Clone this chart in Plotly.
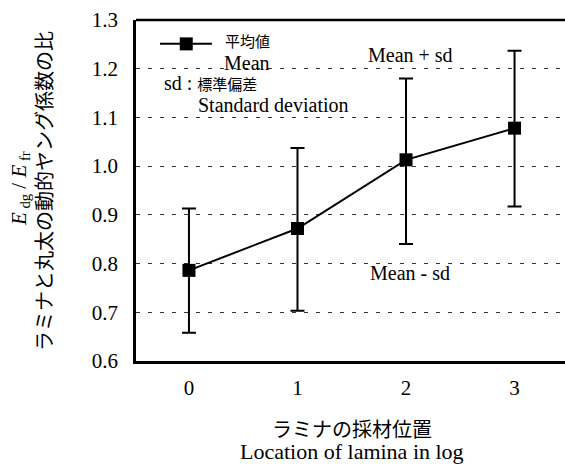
import plotly.graph_objects as go

positions = [0, 1, 2, 3]
tick_labels = ["0", "1", "2", "3"]
mean_vals = [0.786, 0.872, 1.013, 1.078]
sd_plus = [0.127, 0.165, 0.167, 0.159]
sd_minus = [0.128, 0.169, 0.173, 0.161]

serif = "Liberation Serif, Times New Roman, serif"
jp = "Liberation Serif, Noto Sans CJK JP, serif"

fig = go.Figure()
fig.add_trace(go.Scatter(
    x=positions, y=mean_vals, mode="lines+markers",
    line=dict(color="black", width=2),
    marker=dict(symbol="square", size=13, color="black"),
    error_y=dict(type="data", symmetric=False, array=sd_plus, arrayminus=sd_minus,
                 color="black", thickness=2, width=7),
    showlegend=False,
))

# legend sample (line + square)
fig.add_shape(type="line", xref="paper", yref="paper", x0=0.056, x1=0.177, y0=0.93, y1=0.93,
              line=dict(color="black", width=2))
fig.add_trace(go.Scatter(x=[-0.025], y=[1.251], mode="markers",
                         marker=dict(symbol="square", size=13, color="black"),
                         showlegend=False, hoverinfo="skip"))

# top frame line
fig.add_shape(type="line", xref="paper", yref="paper", x0=0, x1=1, y0=1, y1=1,
              line=dict(color="black", width=2.5))

J = '<span style="font-size:15px">%s</span>'
ann = [
    (0.202, 0.935, J % "平均値", "left", 20),
    (0.258, 0.875, "Mean", "center", 20),
    (0.060, 0.815, "sd : " + J % "標準偏差", "left", 20),
    (0.320, 0.752, "Standard deviation", "center", 20),
    (0.641, 0.897, "Mean + sd", "center", 20),
    (0.639, 0.258, "Mean - sd", "center", 20),
]
for x, y, t, a, s in ann:
    fig.add_annotation(xref="paper", yref="paper", x=x, y=y, text=t, showarrow=False,
                       xanchor=a, yanchor="middle", font=dict(family=jp, size=s, color="black"))

# axis titles
fig.add_annotation(xref="paper", yref="paper", x=0.503, y=-0.202, text="ラミナの採材位置",
                   showarrow=False, xanchor="center", yanchor="middle",
                   font=dict(family=jp, size=20, color="black"))
fig.add_annotation(xref="paper", yref="paper", x=0.503, y=-0.264, text="Location of lamina in log",
                   showarrow=False, xanchor="center", yanchor="middle",
                   font=dict(family=serif, size=22, color="black"))
fig.add_annotation(xref="paper", yref="paper", x=-0.212, y=0.4985,
                   text="ラミナと丸太の動的ヤング係数の比", textangle=-90,
                   showarrow=False, xanchor="center", yanchor="middle",
                   font=dict(family=jp, size=20, color="black"))
fig.add_annotation(xref="paper", yref="paper", x=-0.272, y=0.505,
                   text="<i>E</i><sub> dg</sub> / <i>E</i><sub> fr</sub>", textangle=-90,
                   showarrow=False, xanchor="center", yanchor="middle",
                   font=dict(family=serif, size=21, color="black"))

fig.update_layout(
    width=565, height=468,
    margin=dict(l=136, r=0, t=20, b=107),
    paper_bgcolor="white", plot_bgcolor="white",
    font=dict(family=serif, size=21, color="black"),
    xaxis=dict(range=[-0.488, 3.465], tickvals=positions, ticktext=tick_labels,
               showgrid=False, zeroline=False, showline=True, linecolor="black", linewidth=2.5,
               ticks="outside", ticklen=6, tickcolor="rgba(0,0,0,0)",
               tickfont=dict(family=serif, size=21)),
    yaxis=dict(range=[0.6, 1.3], dtick=0.1, tickformat=".1f",
               showgrid=True, gridcolor="#333333", gridwidth=1, griddash="4px,8px",
               zeroline=False, showline=True, linecolor="black", linewidth=2.5,
               ticks="outside", ticklen=11, tickcolor="rgba(0,0,0,0)",
               tickfont=dict(family=serif, size=21)),
)

fig.write_html("out.html")
